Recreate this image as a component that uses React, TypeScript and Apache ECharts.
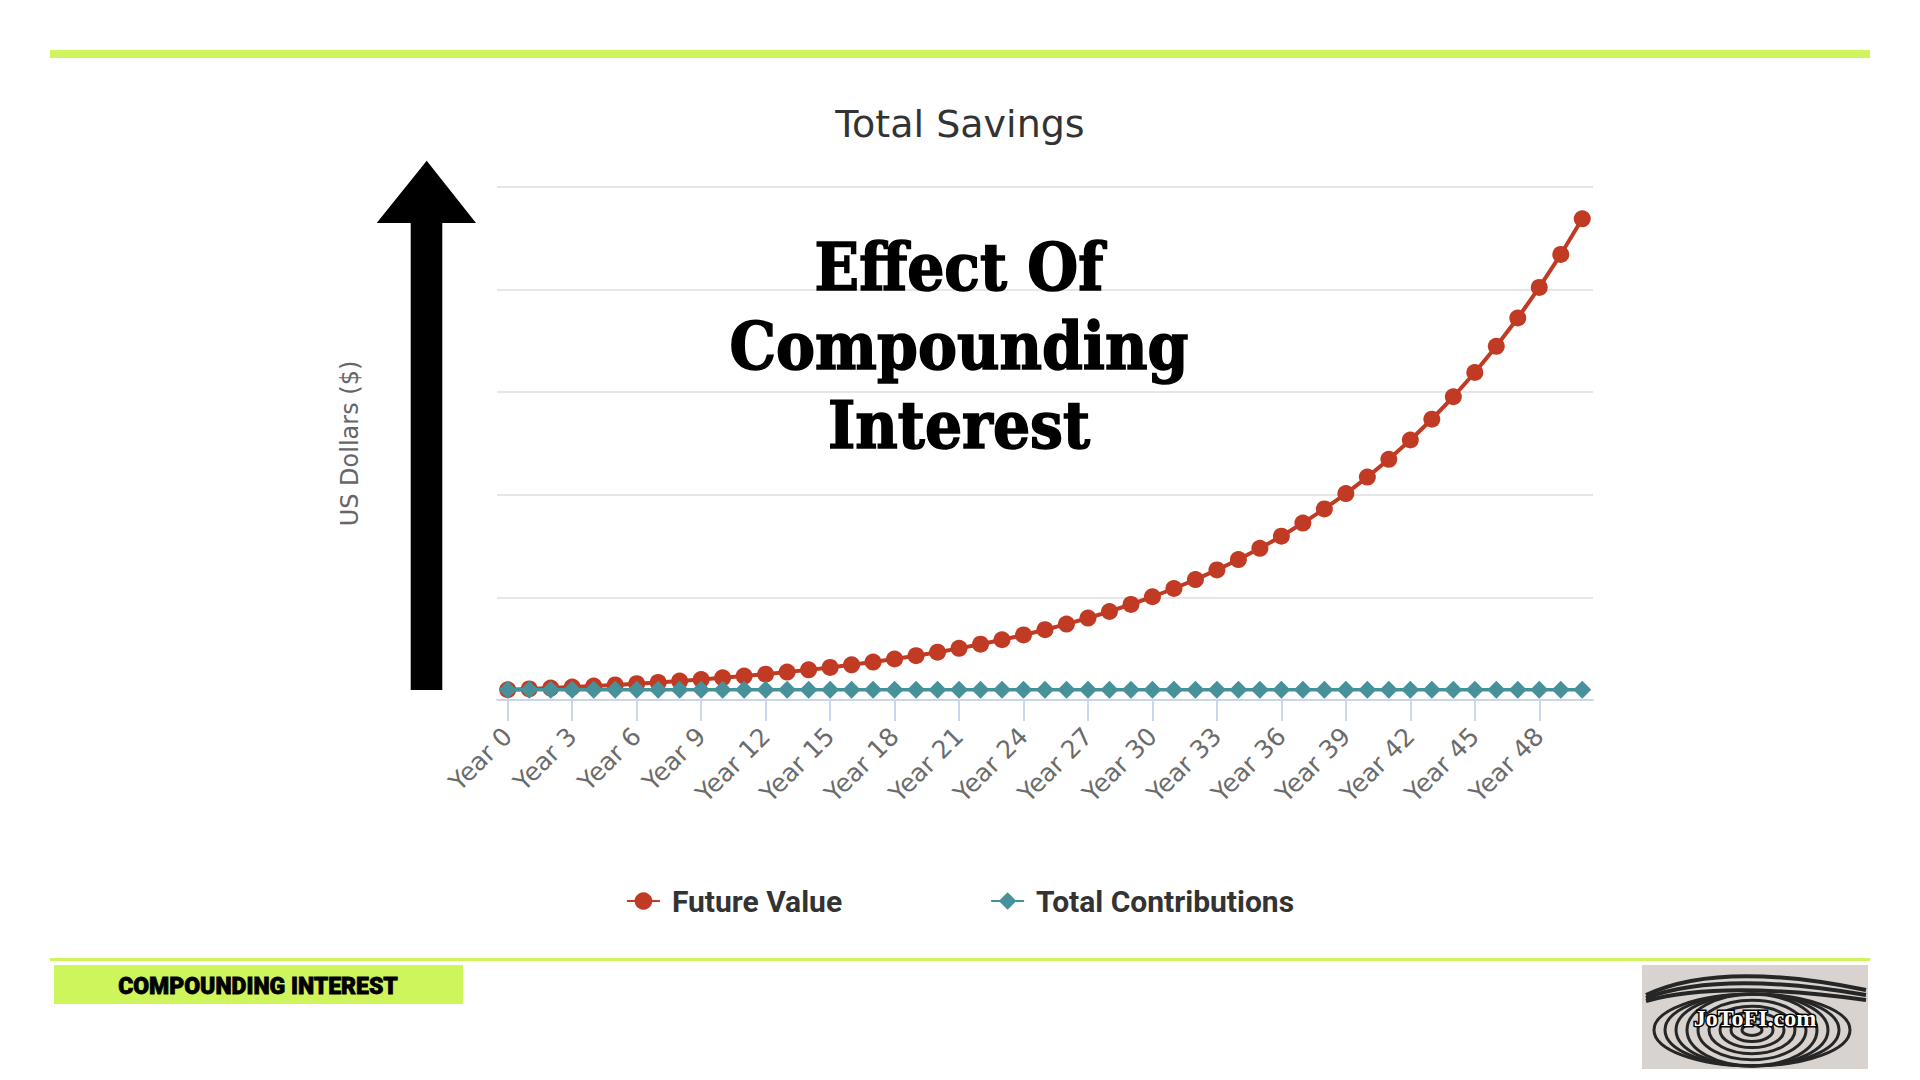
import React, { useEffect, useRef } from "react";
import * as echarts from "echarts";

const years: string[] = [
  "Year 0", "Year 1", "Year 2", "Year 3", "Year 4", "Year 5", "Year 6", "Year 7", "Year 8", "Year 9",
  "Year 10", "Year 11", "Year 12", "Year 13", "Year 14", "Year 15", "Year 16", "Year 17", "Year 18", "Year 19",
  "Year 20", "Year 21", "Year 22", "Year 23", "Year 24", "Year 25", "Year 26", "Year 27", "Year 28", "Year 29",
  "Year 30", "Year 31", "Year 32", "Year 33", "Year 34", "Year 35", "Year 36", "Year 37", "Year 38", "Year 39",
  "Year 40", "Year 41", "Year 42", "Year 43", "Year 44", "Year 45", "Year 46", "Year 47", "Year 48", "Year 49",
  "Year 50",
];

const futureValue: number[] = [
  10000, 10800, 11660, 12600, 13600, 14690, 15870, 17140, 18510, 19990,
  21590, 23320, 25180, 27200, 29370, 31720, 34260, 37000, 39960, 43160,
  46610, 50340, 54370, 58720, 63410, 68490, 73960, 79880, 86270, 93170,
  100630, 108680, 117370, 126760, 136900, 147850, 159680, 172460, 186250, 201150,
  217250, 234630, 253400, 273670, 295560, 319200, 344740, 372320, 402110, 434270,
  469020,
];

const totalContributions: number[] = [
  10000, 10000, 10000, 10000, 10000, 10000, 10000, 10000, 10000, 10000,
  10000, 10000, 10000, 10000, 10000, 10000, 10000, 10000, 10000, 10000,
  10000, 10000, 10000, 10000, 10000, 10000, 10000, 10000, 10000, 10000,
  10000, 10000, 10000, 10000, 10000, 10000, 10000, 10000, 10000, 10000,
  10000, 10000, 10000, 10000, 10000, 10000, 10000, 10000, 10000, 10000,
  10000,
];

const overlayLines: string[] = ["Effect Of", "Compounding", "Interest"];

const GREEN = "#cff55c";

export default function App() {
  const ref = useRef<HTMLDivElement>(null);

  useEffect(() => {
    if (!ref.current) return;
    const chart = echarts.init(ref.current, undefined, { renderer: "svg" });

    const overlay = overlayLines.map((t, i) => ({
      type: "text",
      x: 959,
      y: 267 + i * 79,
      z: 100,
      style: {
        text: t,
        fill: "#000",
        stroke: "#000",
        lineWidth: 1.5,
        font: "bold 65px 'DejaVu Serif Condensed', 'DejaVu Serif', serif",
        textAlign: "center",
        textVerticalAlign: "middle",
      },
    }));

    const ellipses: any[] = [];
    const rings = [10, 21, 32, 43, 54, 65, 76, 87, 98];
    rings.forEach((rx) => {
      ellipses.push({
        type: "ellipse",
        shape: { cx: 1752, cy: 1030, rx: rx, ry: Math.min(rx * 0.55, 36) },
        style: { fill: "none", stroke: "#262626", lineWidth: 3 },
      });
    });
    const brows: any[] = [0, 10, 20].map((d) => ({
      type: "bezierCurve",
      shape: { x1: 1646, y1: 995 + d * 0.3, cpx1: 1720, cpy1: 960 + d, x2: 1866, y2: 990 + d * 0.5 },
      style: { fill: "none", stroke: "#262626", lineWidth: 4 },
    }));

    const option: any = {
      animation: false,
      backgroundColor: "#ffffff",
      title: {
        text: "Total Savings",
        left: "center",
        top: 100,
        textStyle: {
          fontFamily: "'DejaVu Sans', sans-serif",
          fontSize: 38,
          fontWeight: "normal",
          color: "#333333",
        },
      },
      legend: {
        bottom: 1080 - 921,
        left: "center",
        itemWidth: 33,
        itemHeight: 22,
        itemGap: 148,
        textStyle: {
          fontFamily: "Roboto, sans-serif",
          fontSize: 30,
          fontWeight: "bold",
          color: "#333333",
          padding: [0, 0, 0, 7],
        },
        data: ["Future Value", "Total Contributions"],
      },
      grid: { left: 497, right: 327, top: 187, bottom: 380, containLabel: false },
      xAxis: {
        type: "category",
        data: years,
        boundaryGap: true,
        axisLine: { show: true, lineStyle: { color: "#ccd6eb", width: 2 } },
        axisTick: {
          show: true,
          interval: 2,
          alignWithLabel: true,
          length: 21,
          lineStyle: { color: "#ccd6eb", width: 2 },
        },
        axisLabel: {
          interval: 2,
          rotate: 45,
          margin: 32,
          color: "#6b6b6b",
          fontSize: 25,
          fontFamily: "'DejaVu Sans', sans-serif",
        },
        splitLine: { show: false },
      },
      yAxis: {
        type: "value",
        min: 0,
        max: 500000,
        interval: 100000,
        name: "US Dollars ($)",
        nameLocation: "middle",
        nameRotate: 90,
        nameGap: 135,
        nameTextStyle: {
          color: "#666666",
          fontSize: 24,
          fontFamily: "'DejaVu Sans', sans-serif",
        },
        axisLine: { show: false },
        axisTick: { show: false },
        axisLabel: { show: false },
        splitLine: { show: true, lineStyle: { color: "#e6e6e6", width: 2 } },
      },
      series: [
        {
          name: "Future Value",
          type: "line",
          data: futureValue,
          symbol: "circle",
          symbolSize: 17,
          showSymbol: true,
          showAllSymbol: true,
          color: "#c13b24",
          itemStyle: { color: "#c13b24" },
          lineStyle: { color: "#c13b24", width: 4 },
          z: 2,
        },
        {
          name: "Total Contributions",
          type: "line",
          data: totalContributions,
          symbol: "diamond",
          symbolSize: 18,
          showSymbol: true,
          showAllSymbol: true,
          color: "#47929a",
          itemStyle: { color: "#47929a" },
          lineStyle: { color: "#47929a", width: 3.5 },
          z: 3,
        },
      ],
      graphic: [
        { type: "rect", shape: { x: 50, y: 50, width: 1820, height: 8 }, style: { fill: GREEN } },
        {
          type: "polygon",
          shape: {
            points: [
              [426.7, 160.7],
              [476, 223],
              [442.3, 223],
              [442.3, 690],
              [410.7, 690],
              [410.7, 223],
              [376.7, 223],
            ],
          },
          style: { fill: "#000000" },
          z: 50,
        },
        ...overlay,
        { type: "rect", shape: { x: 50, y: 958, width: 1820, height: 3 }, style: { fill: GREEN } },
        { type: "rect", shape: { x: 54, y: 965, width: 409, height: 39 }, style: { fill: GREEN } },
        {
          type: "text",
          x: 258,
          y: 986,
          style: {
            text: "COMPOUNDING INTEREST",
            fill: "#000",
            stroke: "#000",
            lineWidth: 0.8,
            font: "900 23px 'Liberation Sans Narrow', 'Roboto', sans-serif",
            textAlign: "center",
            textVerticalAlign: "middle",
          },
        },
        {
          type: "group",
          children: [
            { type: "rect", shape: { x: 1642, y: 965, width: 226, height: 104 }, style: { fill: "#d9d3cf" } },
            ...ellipses,
            ...brows,
            {
              type: "text",
              x: 1755,
              y: 1018,
              style: {
                text: "JoToFI.com",
                fill: "#ffffff",
                stroke: "#000000",
                lineWidth: 3,
                font: "bold 24px 'Liberation Serif', serif",
                textAlign: "center",
                textVerticalAlign: "middle",
              },
            },
          ],
        },
      ],
    };

    chart.setOption(option);
    return () => chart.dispose();
  }, []);

  return <div ref={ref} style={{ width: 1920, height: 1080, margin: -8 }} />;
}
